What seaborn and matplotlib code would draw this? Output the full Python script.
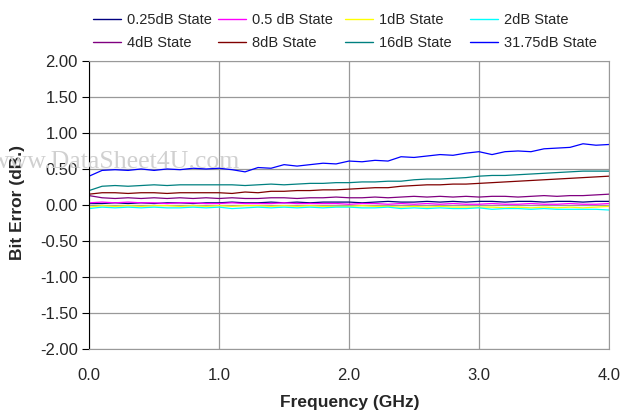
import numpy as np
import pandas as pd
import matplotlib
matplotlib.use("Agg")
import matplotlib.pyplot as plt
import seaborn as sns

# frequency points (GHz)
freq = np.round(np.arange(41) * 0.1, 1)

states = ["0.25dB State", "0.5 dB State", "1dB State", "2dB State",
          "4dB State", "8dB State", "16dB State", "31.75dB State"]
colors = ["#000080", "#FF00FF", "#FFFF00", "#00FFFF",
          "#800080", "#800000", "#008080", "#0000FF"]

err_025 = [0.02, 0.02, 0.03, 0.02, 0.03, 0.02, 0.03, 0.03, 0.02, 0.03, 0.03, 0.04, 0.03, 0.03,
           0.04, 0.03, 0.04, 0.03, 0.04, 0.04, 0.04, 0.03, 0.04, 0.05, 0.04, 0.04, 0.05, 0.04,
           0.05, 0.04, 0.05, 0.05, 0.04, 0.05, 0.05, 0.04, 0.05, 0.05, 0.04, 0.05, 0.05]
err_05 = [0.03, 0.04, 0.03, 0.04, 0.03, 0.03, 0.02, 0.03, 0.03, 0.02, 0.02, 0.03, 0.02, 0.02,
          0.02, 0.03, 0.02, 0.02, 0.02, 0.02, 0.01, 0.02, 0.02, 0.01, 0.02, 0.01, 0.02, 0.01,
          0.02, 0.01, 0.01, 0.02, 0.01, 0.01, 0.02, 0.01, 0.01, 0.02, 0.01, 0.01, 0.02]
err_1 = [-0.03, -0.01, -0.02, -0.01, -0.02, -0.01, -0.01, -0.02, -0.01, -0.02, -0.01, -0.02,
         -0.01, -0.01, -0.02, -0.01, -0.02, -0.01, -0.02, -0.02, -0.02, -0.01, -0.02, -0.02,
         -0.03, -0.02, -0.03, -0.02, -0.03, -0.03, -0.03, -0.03, -0.04, -0.03, -0.04, -0.03,
         -0.04, -0.03, -0.04, -0.03, -0.02]
err_2 = [-0.05, -0.03, -0.04, -0.03, -0.04, -0.03, -0.04, -0.04, -0.03, -0.04, -0.03, -0.05,
         -0.04, -0.03, -0.04, -0.03, -0.04, -0.03, -0.04, -0.03, -0.03, -0.04, -0.04, -0.03,
         -0.05, -0.04, -0.05, -0.04, -0.05, -0.05, -0.04, -0.06, -0.05, -0.05, -0.06, -0.05,
         -0.06, -0.06, -0.06, -0.06, -0.07]
err_4 = [0.13, 0.10, 0.09, 0.10, 0.09, 0.10, 0.09, 0.10, 0.09, 0.10, 0.09, 0.10, 0.09, 0.09,
         0.10, 0.10, 0.09, 0.10, 0.10, 0.11, 0.10, 0.10, 0.11, 0.10, 0.11, 0.12, 0.11, 0.12,
         0.11, 0.12, 0.11, 0.12, 0.12, 0.11, 0.12, 0.13, 0.12, 0.13, 0.13, 0.14, 0.15]
err_8 = [0.15, 0.17, 0.17, 0.16, 0.17, 0.17, 0.16, 0.17, 0.17, 0.17, 0.17, 0.16, 0.18, 0.17,
         0.19, 0.19, 0.20, 0.20, 0.21, 0.21, 0.22, 0.23, 0.24, 0.24, 0.26, 0.27, 0.28, 0.28,
         0.29, 0.29, 0.30, 0.31, 0.32, 0.33, 0.34, 0.35, 0.36, 0.37, 0.38, 0.39, 0.40]
err_16 = [0.20, 0.26, 0.27, 0.26, 0.27, 0.28, 0.27, 0.28, 0.28, 0.28, 0.28, 0.28, 0.27, 0.28,
          0.29, 0.28, 0.29, 0.30, 0.30, 0.31, 0.31, 0.32, 0.32, 0.33, 0.33, 0.35, 0.36, 0.36,
          0.37, 0.38, 0.40, 0.41, 0.41, 0.42, 0.43, 0.44, 0.45, 0.46, 0.47, 0.47, 0.47]
err_3175 = [0.40, 0.48, 0.49, 0.48, 0.50, 0.48, 0.50, 0.49, 0.51, 0.50, 0.51, 0.49, 0.46, 0.52,
            0.51, 0.56, 0.54, 0.56, 0.58, 0.57, 0.61, 0.60, 0.62, 0.61, 0.67, 0.66, 0.68, 0.70,
            0.69, 0.72, 0.74, 0.70, 0.74, 0.75, 0.74, 0.78, 0.79, 0.80, 0.85, 0.83, 0.84]

series = [err_025, err_05, err_1, err_2, err_4, err_8, err_16, err_3175]

frames = []
for name, vals in zip(states, series):
    frames.append(pd.DataFrame({"freq": freq, "err": vals, "state": name}))
df = pd.concat(frames, ignore_index=True)

sns.set_style("white")
plt.rcParams["font.family"] = ["Liberation Sans", "DejaVu Sans"]

fig = plt.figure(figsize=(6.23, 4.12), dpi=100)
ax = fig.add_axes([0.143, 0.153, 0.8345, 0.699])

sns.lineplot(data=df, x="freq", y="err", hue="state", hue_order=states,
             palette=dict(zip(states, colors)), linewidth=0.9, ax=ax, legend=False)

ax.set_xlim(0, 4)
ax.set_ylim(-2, 2)
ax.set_xticks([0, 1, 2, 3, 4])
ax.set_xticklabels(["0.0", "1.0", "2.0", "3.0", "4.0"], fontsize=12)
yt = np.arange(-2, 2.01, 0.5)
ax.set_yticks(yt)
ax.set_yticklabels([f"{v:.2f}" for v in yt], fontsize=12)
ax.grid(True, color="#999999", linewidth=0.9)
ax.tick_params(axis="y", direction="out", length=5, width=0.8, color="black", pad=3, left=True)
ax.tick_params(axis="x", length=0, pad=14)
for s in ["top", "right", "bottom"]:
    ax.spines[s].set_color("#999999")
ax.spines["left"].set_color("black")
ax.set_axisbelow(True)
ax.set_xlabel("")
ax.set_ylabel("")

fig.text(350 / 623, 1 - 403 / 412, "Frequency (GHz)", fontsize=12.5, fontweight="bold",
         ha="center", va="center")
fig.text(18 / 623, 1 - 202 / 412, "Bit Error (dB.)", fontsize=12.5, fontweight="bold",
         ha="center", va="center", rotation=90)

# legend: 4 columns of 2 entries, fixed column positions like the source
col_x = [93, 218, 345, 470]
for c in range(4):
    hs = [plt.Line2D([], [], color=colors[c + 4 * r], linewidth=1) for r in range(2)]
    ls = [states[c + 4 * r] for r in range(2)]
    fig.legend(hs, ls, loc="upper left", bbox_to_anchor=(col_x[c] / 623, 1 - 13 / 412),
               frameon=False, fontsize=10.5, handlelength=1.9, handletextpad=0.4,
               labelspacing=0.6, borderpad=0, borderaxespad=0)

# faint watermark from the source image
fig.text(-0.015, 1 - 162 / 412, "www.DataSheet4U.com", fontsize=18.5, family="Liberation Serif",
         color="#d0d0d0", va="center")

fig.savefig("out.png", dpi=100)
